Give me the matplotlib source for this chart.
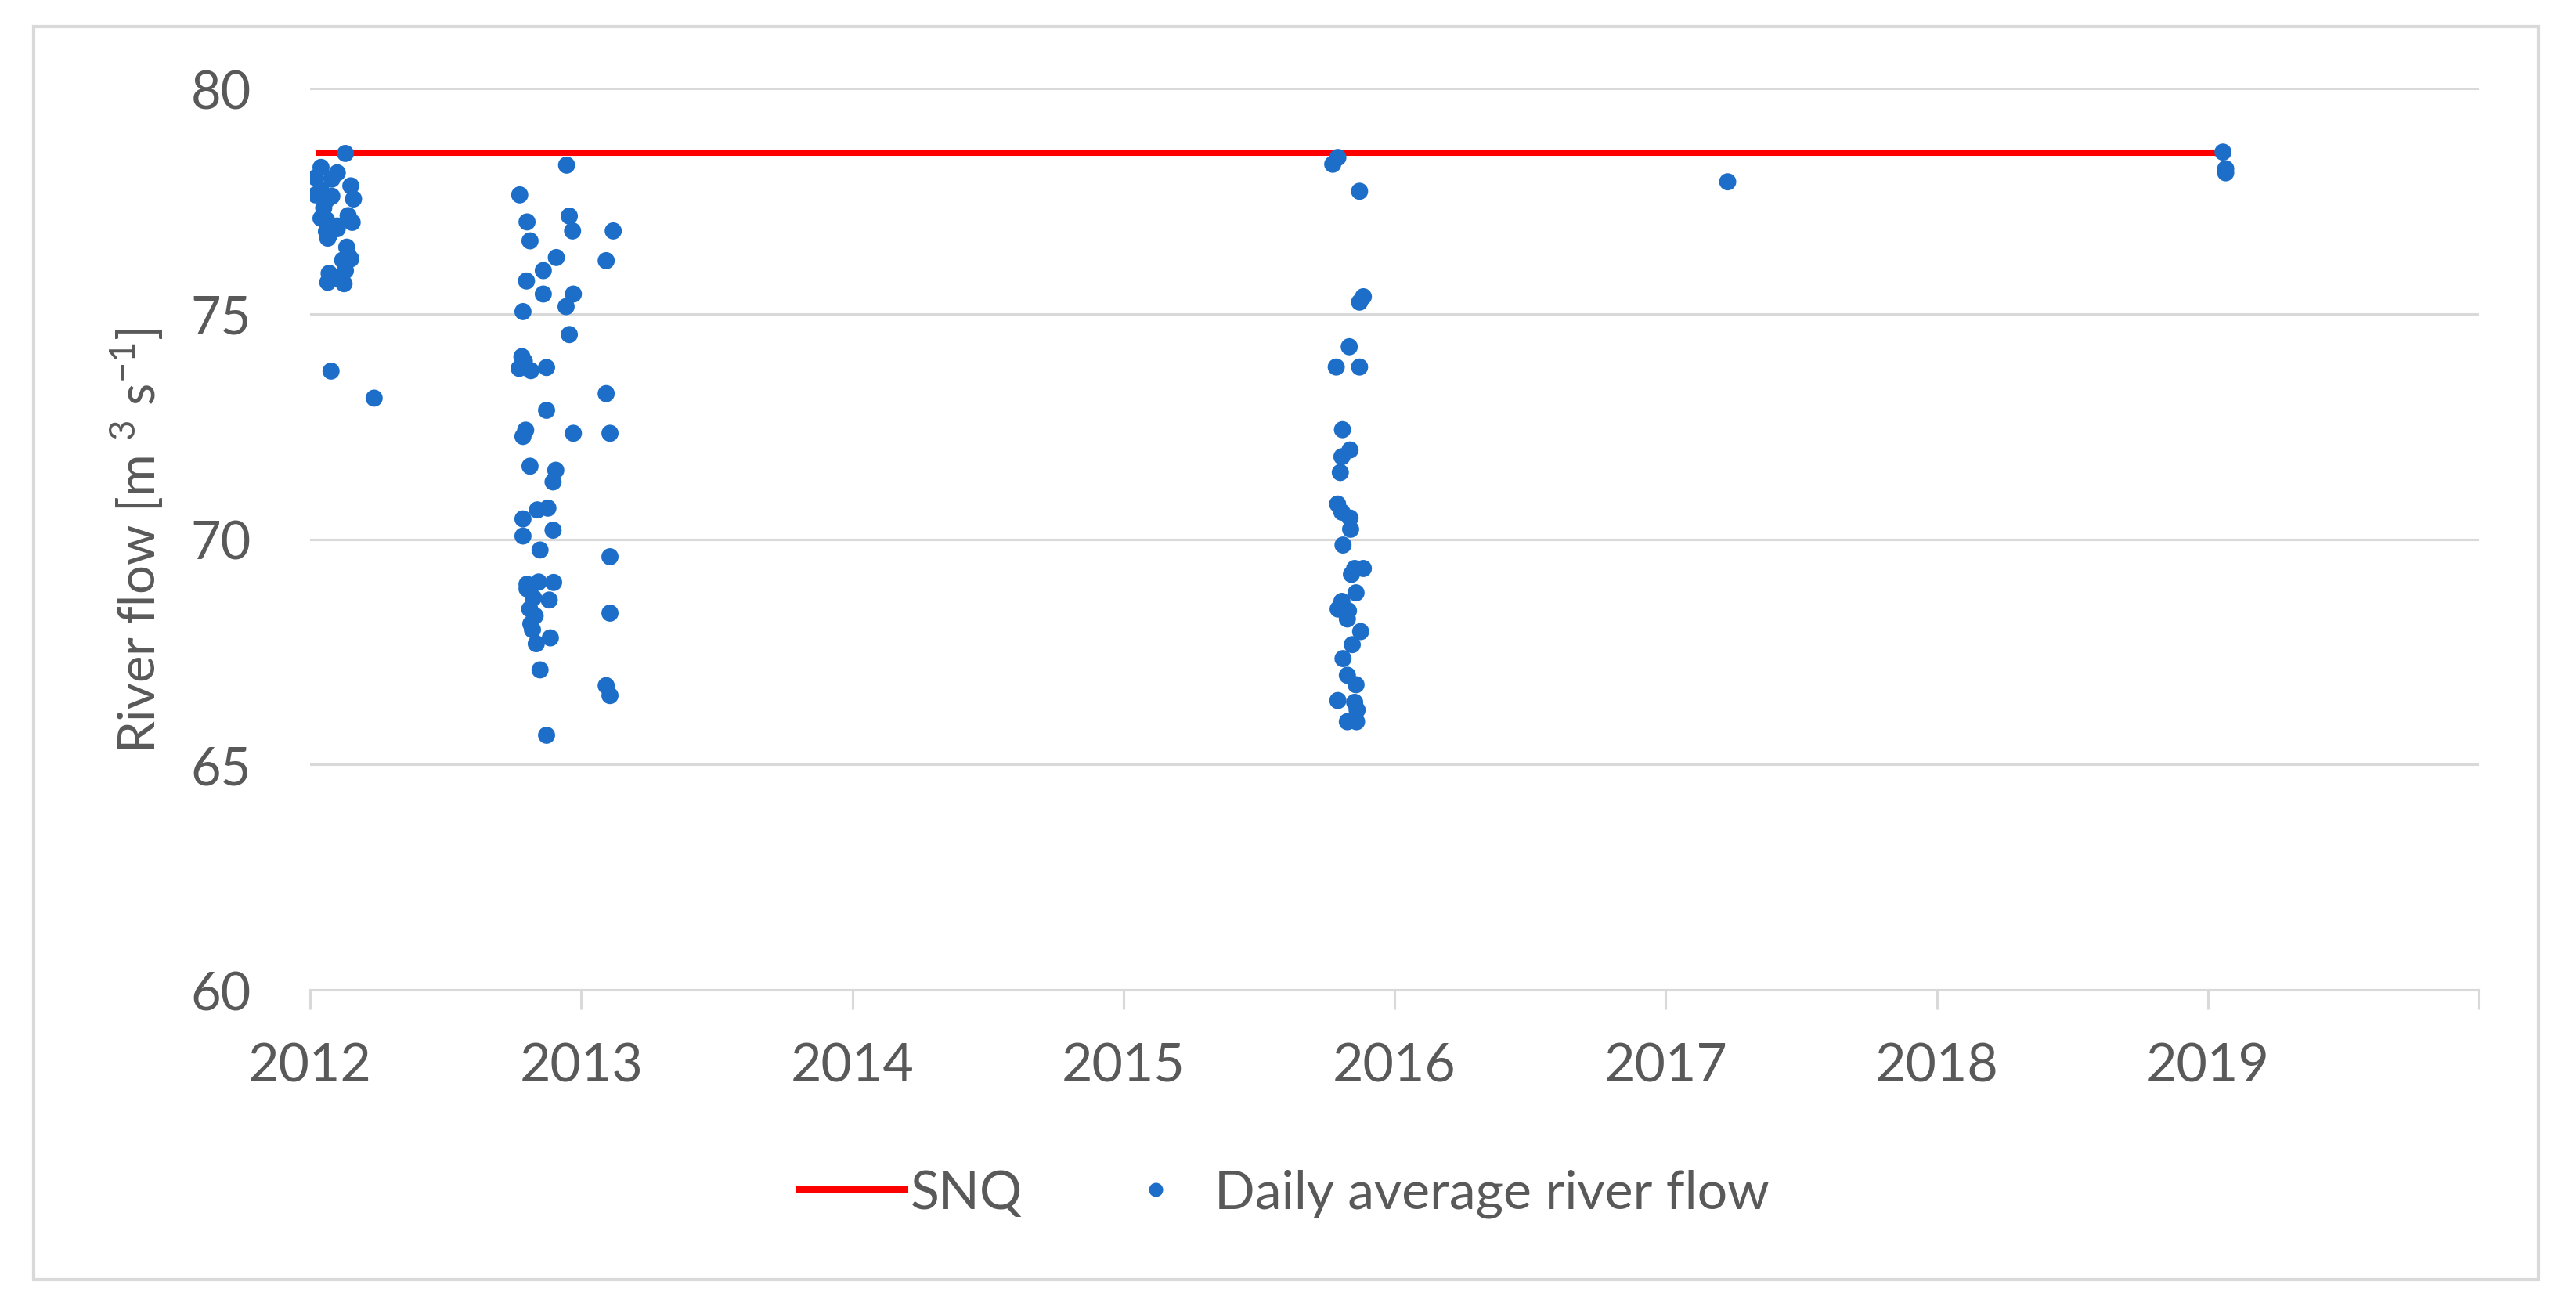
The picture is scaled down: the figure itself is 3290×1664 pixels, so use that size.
import matplotlib
matplotlib.use("Agg")
import matplotlib.pyplot as plt
from matplotlib.lines import Line2D
from matplotlib.patches import Rectangle

plt.rcParams['font.family'] = ['Lato', 'DejaVu Sans']
plt.rcParams['mathtext.fontset'] = 'custom'
plt.rcParams['mathtext.rm'] = 'Lato'

# SNQ threshold line (decimal years)
snq_value = 78.57
snq_dates = [2012.02, 2019.07]

# daily average river flow (decimal years, m3/s)
dates_2012 = [2012.13, 2012.04, 2012.02, 2012.10, 2012.08, 2012.15, 2012.02, 2012.06,
              2012.16, 2012.05, 2012.06, 2012.14, 2012.155, 2012.07, 2012.10, 2012.135,
              2012.15, 2012.13, 2012.07, 2012.065, 2012.125, 2012.10, 2012.14, 2012.12,
              2012.04, 2012.06, 2012.065, 2012.08, 2012.04, 2012.10, 2012.077, 2012.236]
flow_2012 = [78.56, 78.25, 78.02, 78.13, 77.99, 77.84, 77.64, 77.52,
             77.55, 77.35, 77.09, 77.18, 77.03, 76.74, 76.89, 76.48,
             76.22, 75.96, 75.90, 75.70, 75.67, 75.79, 76.31, 76.19,
             77.12, 76.83, 76.68, 77.61, 77.75, 76.95, 73.73, 73.13]

dates_2013 = [2012.946, 2012.773, 2012.800, 2012.956, 2012.968, 2013.118, 2012.811, 2012.908,
              2013.092, 2012.860, 2012.798, 2012.860, 2012.971, 2012.944, 2012.785, 2012.956,
              2012.781, 2012.771, 2012.814, 2012.872, 2013.092, 2012.872, 2012.795, 2012.785,
              2012.971, 2013.106, 2012.811, 2012.906, 2012.896, 2012.785, 2012.838, 2012.877,
              2012.896, 2012.785, 2012.848, 2013.106, 2012.800, 2012.843, 2012.898, 2012.824,
              2012.882, 2013.106, 2012.814, 2012.886, 2012.834, 2012.820, 2012.848, 2013.092,
              2013.106, 2012.872, 2012.810, 2012.830, 2012.800, 2012.790]
flow_2013 = [78.30, 77.64, 77.04, 77.17, 76.84, 76.84, 76.62, 76.25,
             76.18, 75.96, 75.73, 75.44, 75.44, 75.16, 75.05, 74.54,
             74.05, 73.79, 73.74, 73.81, 73.23, 72.86, 72.42, 72.28,
             72.35, 72.35, 71.62, 71.53, 71.27, 70.45, 70.65, 70.69,
             70.20, 70.07, 69.76, 69.61, 69.00, 69.05, 69.04, 68.70,
             68.65, 68.36, 68.12, 67.81, 67.68, 67.99, 67.10, 66.75,
             66.53, 65.65, 68.45, 68.30, 68.90, 73.95]

dates_2015 = [2015.772, 2015.791, 2015.871, 2015.871, 2015.885, 2015.833, 2015.785, 2015.871,
              2015.808, 2015.836, 2015.806, 2015.800, 2015.790, 2015.806, 2015.836, 2015.838,
              2015.810, 2015.853, 2015.885, 2015.841, 2015.858, 2015.806, 2015.792, 2015.830,
              2015.826, 2015.875, 2015.844, 2015.810, 2015.826, 2015.858, 2015.791, 2015.853,
              2015.862, 2015.826, 2015.860]
flow_2015 = [78.32, 78.47, 77.72, 75.26, 75.38, 74.27, 73.82, 73.82,
             72.43, 71.98, 71.83, 71.48, 70.78, 70.60, 70.47, 70.22,
             69.87, 69.35, 69.35, 69.22, 68.81, 68.62, 68.45, 68.41,
             68.23, 67.95, 67.66, 67.35, 66.98, 66.77, 66.42, 66.38,
             66.21, 65.95, 65.95]

dates_late = [2017.229, 2019.056, 2019.066, 2019.066]
flow_late = [77.93, 78.59, 78.22, 78.13]

dates = dates_2012 + dates_2013 + dates_2015 + dates_late
flow = flow_2012 + flow_2013 + flow_2015 + flow_late

year_ticks = [2012, 2013, 2014, 2015, 2016, 2017, 2018, 2019, 2020]
year_labels = ['2012', '2013', '2014', '2015', '2016', '2017', '2018', '2019', '']
flow_ticks = [60, 65, 70, 75, 80]

text_col = '#595959'
grid_col = '#d9d9d9'
blue = '#1c6ec8'

fig = plt.figure(figsize=(16.45, 8.325), dpi=200)
ax = fig.add_axes([0.1204, 0.2402, 0.8419, 0.6913])

ax.plot(snq_dates, [snq_value, snq_value], color='red', lw=2.9, zorder=2, solid_capstyle='butt')
ax.scatter(dates, flow, s=62, color=blue, edgecolors='none', zorder=3)

ax.set_xlim(2012, 2020)
ax.set_ylim(60, 80)
ax.set_xticks(year_ticks)
ax.set_xticklabels(year_labels)
ax.set_yticks(flow_ticks)
ax.yaxis.grid(True, color=grid_col, lw=1.1)
ax.set_axisbelow(True)

for s in ['top', 'right', 'left']:
    ax.spines[s].set_visible(False)
ax.spines['bottom'].set_color(grid_col)
ax.spines['bottom'].set_linewidth(1.1)

ax.tick_params(axis='x', length=9, width=1.1, color=grid_col, labelcolor=text_col,
               labelsize=24.5, pad=15)
ax.tick_params(axis='y', length=0, labelcolor=text_col, labelsize=24, pad=27)

ax.set_ylabel('River flow [m $^{3}$ s$^{-1}$]', color=text_col, fontsize=23.5)
ax.yaxis.set_label_coords(-0.0667, 0.5)

handles = [Line2D([], [], color='red', lw=2.9),
           Line2D([], [], ls='none', marker='o', markersize=6.5, color=blue, markeredgewidth=0)]
fig.legend(handles, ['SNQ', 'Daily average river flow'], loc='center',
           bbox_to_anchor=(0.4985, 0.084), ncol=2, frameon=False, fontsize=24.5,
           handlelength=2.0, handletextpad=0.1, columnspacing=1.5, labelcolor=text_col)

# light outer border of the chart area
fig.add_artist(Rectangle((0.0131, 0.018), 0.9723, 0.961, transform=fig.transFigure,
                         fill=False, edgecolor=grid_col, lw=1.5))

fig.savefig('out.png', dpi=200)
